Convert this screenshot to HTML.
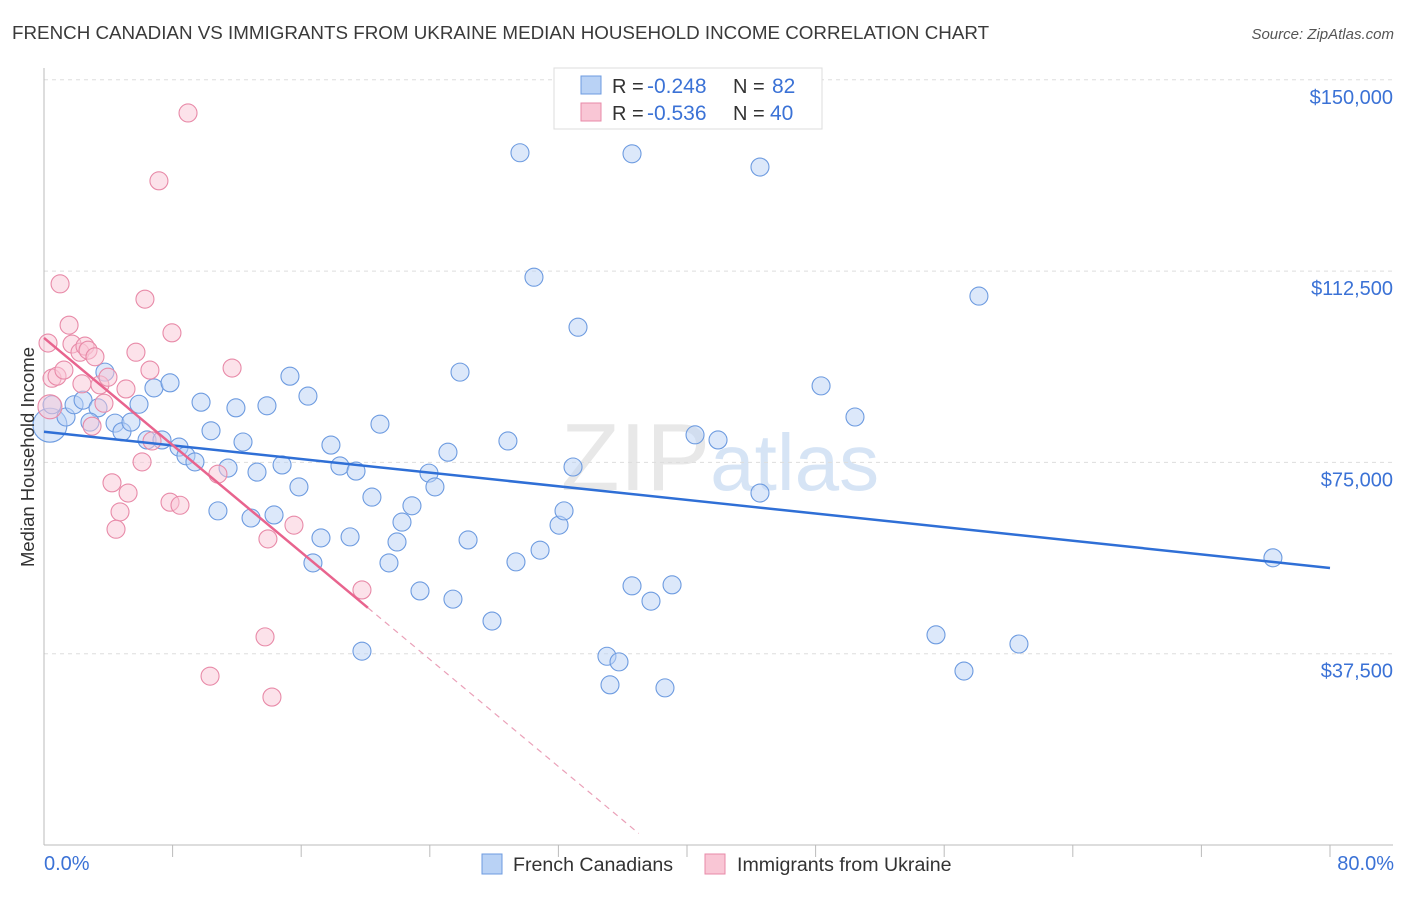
<!DOCTYPE html>
<html><head><meta charset="utf-8"><style>
body{margin:0;background:#fff;font-family:"Liberation Sans",sans-serif}
svg text{font-family:"Liberation Sans",sans-serif}
</style></head><body>
<svg id="chart" width="1406" height="892" xmlns="http://www.w3.org/2000/svg">
<text x="12" y="39" font-size="18.8" fill="#3a3a3a">FRENCH CANADIAN VS IMMIGRANTS FROM UKRAINE MEDIAN HOUSEHOLD INCOME CORRELATION CHART</text>
<text x="1394" y="39" font-size="15" fill="#555" text-anchor="end" font-style="italic">Source: ZipAtlas.com</text>
<text x="720" y="490" font-size="96" fill="#e8e8e8" text-anchor="middle" font-family="Liberation Serif"><tspan>ZIP</tspan><tspan fill="#d6e4f5" font-family="Liberation Sans" font-size="80">atlas</tspan></text>
<g id="grid"></g>
<g id="axes"></g>
<g id="marks"></g>
<text transform="translate(34,457) rotate(-90)" font-size="18.5" fill="#333" text-anchor="middle">Median Household Income</text>
<text x="44" y="870" font-size="20" fill="#3b72d6">0.0%</text>
<text x="1394" y="870" font-size="20" fill="#3b72d6" text-anchor="end">80.0%</text>
<g>
<rect x="554" y="68" width="268" height="61" fill="#fff" stroke="#ddd"/>
<rect x="581" y="76" width="20" height="18" fill="#b9d2f5" stroke="#6d9be0"/>
<rect x="581" y="103" width="20" height="18" fill="#f9c6d5" stroke="#e88aa8"/>
<text x="612" y="93" font-size="20" fill="#333">R =</text>
<text x="647" y="93" font-size="21" fill="#3b72d6">-0.248</text>
<text x="733" y="93" font-size="20" fill="#333">N =</text>
<text x="772" y="93" font-size="21" fill="#3b72d6">82</text>
<text x="612" y="120" font-size="20" fill="#333">R =</text>
<text x="647" y="120" font-size="21" fill="#3b72d6">-0.536</text>
<text x="733" y="120" font-size="20" fill="#333">N =</text>
<text x="770" y="120" font-size="21" fill="#3b72d6">40</text>
</g>
<g>
<rect x="482" y="854" width="20" height="20" fill="#b9d2f5" stroke="#6d9be0"/>
<text x="513" y="871" font-size="19.6" fill="#333">French Canadians</text>
<rect x="705" y="854" width="20" height="20" fill="#f9c6d5" stroke="#e88aa8"/>
<text x="737" y="871" font-size="19.6" fill="#333">Immigrants from Ukraine</text>
</g>
</svg>
<script>
const yTicks=[37.5,75,112.5,150];
const yTickLabels=["$37,500","$75,000","$112,500","$150,000"];
const blueX=[0.37,0.5,1.37,1.87,2.43,3.36,2.86,4.42,4.85,5.41,3.79,5.91,6.84,7.84,6.41,7.34,8.4,8.83,9.39,9.77,10.39,10.82,11.45,11.94,12.38,12.88,13.25,13.87,14.31,14.81,15.3,15.86,16.42,16.73,17.23,17.85,18.41,19.04,19.41,19.78,20.4,20.9,21.46,21.96,22.27,22.89,23.39,23.95,24.32,25.13,25.44,25.88,26.38,27.87,28.86,29.36,29.61,30.48,30.86,32.04,32.35,32.91,33.22,35.02,35.21,35.77,36.58,36.58,37.76,38.63,39.07,40.5,41.93,44.54,44.54,48.34,50.45,55.49,57.23,58.16,60.65,76.45];
const blueY=[82.3,86.3,83.9,86.3,87.2,85.7,82.9,82.7,81.0,82.9,92.7,86.4,89.6,90.6,79.4,79.4,78.0,76.3,75.1,86.8,81.2,65.5,73.9,85.7,79.0,64.1,73.1,86.1,64.7,74.5,91.9,70.2,88.0,55.3,60.2,78.4,74.3,60.4,73.3,38.0,68.2,82.5,55.3,59.4,63.3,66.5,49.8,72.9,70.2,77.0,48.2,92.7,59.8,43.9,79.2,55.5,135.7,111.3,57.8,62.7,65.5,74.1,101.5,37.0,31.4,35.9,50.8,135.5,47.8,30.8,51.0,80.4,79.4,69.0,132.9,90.0,83.9,41.2,34.1,107.6,39.4,56.3];
const pinkX=[0.25,1.0,0.5,0.81,1.24,1.56,1.74,2.24,2.55,2.74,3.17,2.36,3.48,3.98,3.73,2.99,4.23,4.73,4.48,5.23,5.1,5.72,6.28,6.1,6.72,6.59,7.15,7.84,8.46,7.96,8.96,10.33,10.82,11.7,13.75,13.93,14.18,15.55,19.78,0.37];
const pinkY=[98.4,110.0,91.5,91.9,93.1,101.9,98.2,96.6,97.8,97.0,95.7,90.4,90.2,91.7,86.6,82.1,71.0,65.3,61.9,69.0,89.4,96.6,107.0,75.1,79.2,93.1,130.2,67.2,66.6,100.4,143.5,33.1,72.7,93.5,40.8,60.0,29.0,62.7,50.0,85.9];
const blueTrend=[81.0,54.3];
const pinkTrend=[99.4,46.5,20.15,37.0];
const NS="http://www.w3.org/2000/svg";
const X=v=>44+v*16.075, Y=v=>845-v*1000/196.03;
function mk(t,a,p){const e=document.createElementNS(NS,t);for(const k in a)e.setAttribute(k,a[k]);p.appendChild(e);return e;}
const grid=document.getElementById('grid'),axes=document.getElementById('axes'),marks=document.getElementById('marks');
yTicks.forEach((t,i)=>{
 const l=mk('line',{x1:44,x2:1393,y1:Y(t),y2:Y(t),stroke:'#ddd','stroke-dasharray':'4,4'},grid);
 
 
 const tx=mk('text',{x:1393,y:Y(t)+24,'font-size':20,fill:'#3b72d6','text-anchor':'end'},axes);
 tx.textContent=yTickLabels[i];
 
 
});
mk('line',{x1:44,x2:44,y1:68,y2:845,stroke:'#bbb'},axes);
mk('line',{x1:44,x2:1393,y1:845,y2:845,stroke:'#bbb'},axes);
for(let i=1;i<=10;i++){const t=mk('line',{x1:X(i*8),x2:X(i*8),y1:845,y2:857,stroke:'#bbb'},axes);
 
 }
function dot(x,y,f,s,r){return mk('circle',{cx:X(x),cy:Y(y),r:r,fill:f,'fill-opacity':0.5,stroke:s,'stroke-width':1.1},marks);}
blueX.forEach((x,i)=>{const c=dot(x,blueY[i],'#b9d2f5','#6d9be0',i===0?17:9);
 
 });
pinkX.forEach((x,i)=>{const c=dot(x,pinkY[i],'#f9c6d5','#e88aa8',i===pinkX.length-1?12:9);
 
 });
const bl=mk('line',{x1:X(0),y1:Y(blueTrend[0]),x2:X(80),y2:Y(blueTrend[1]),stroke:'#2f6fd6','stroke-width':2.5},marks);


const slope=(pinkTrend[1]-pinkTrend[0])/pinkTrend[2];
const pl=mk('line',{x1:X(0),y1:Y(pinkTrend[0]),x2:X(pinkTrend[2]),y2:Y(pinkTrend[1]),stroke:'#e8648e','stroke-width':2.5},marks);


const pd=mk('line',{x1:X(pinkTrend[2]),y1:Y(pinkTrend[1]),x2:X(pinkTrend[3]),y2:Y(pinkTrend[0]+slope*pinkTrend[3]),stroke:'#eaa0b8','stroke-width':1.2,'stroke-dasharray':'6,5'},marks);


</script>
</body></html>
